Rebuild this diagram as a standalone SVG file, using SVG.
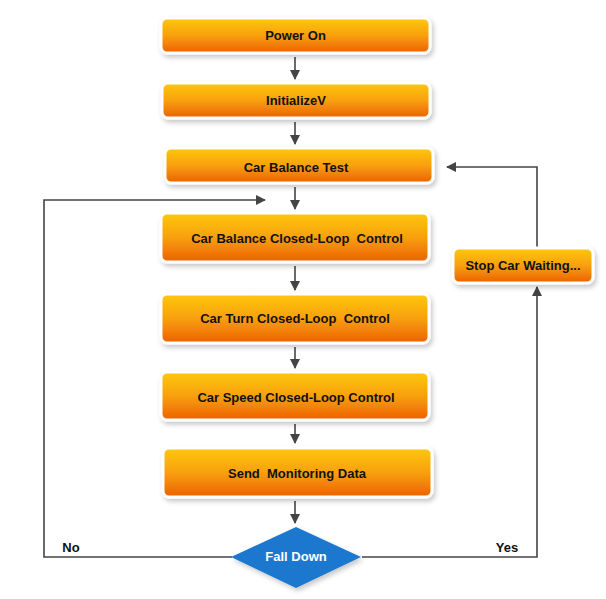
<svg xmlns="http://www.w3.org/2000/svg" width="606" height="599" viewBox="0 0 606 599">
<defs>
<linearGradient id="og" x1="0" y1="0" x2="0" y2="1">
<stop offset="0" stop-color="#FEC80C"/>
<stop offset="0.5" stop-color="#F8A00A"/>
<stop offset="1" stop-color="#EC6004"/>
</linearGradient>
<filter id="sh" x="-10%" y="-20%" width="120%" height="160%">
<feDropShadow dx="2" dy="3" stdDeviation="2.5" flood-color="#000" flood-opacity="0.22"/>
</filter>
<marker id="ah" viewBox="0 0 10 10" refX="9" refY="5" markerWidth="10" markerHeight="10" markerUnits="userSpaceOnUse" orient="auto">
<path d="M0,0 L10,5 L0,10 z" fill="#444"/>
</marker>
<style>
.box{fill:url(#og);stroke:#fff;stroke-width:3;filter:url(#sh)}
.t{font-family:"Liberation Sans",Arial,sans-serif;font-weight:bold;font-size:13px;fill:#111;text-anchor:middle;white-space:pre}
.c{fill:none;stroke:#444;stroke-width:1.6;marker-end:url(#ah)}
</style>
</defs>
<rect width="606" height="599" fill="#fff"/>
<g id="connectors">
<line class="c" x1="295" y1="57" x2="295" y2="79"/>
<line class="c" x1="295" y1="122" x2="295" y2="144"/>
<line class="c" x1="295" y1="187" x2="295" y2="209"/>
<line class="c" x1="295" y1="266" x2="295" y2="290"/>
<line class="c" x1="295" y1="347" x2="295" y2="368"/>
<line class="c" x1="295" y1="424" x2="295" y2="443"/>
<line class="c" x1="295" y1="501" x2="295" y2="523"/>
<polyline class="c" points="232,557 44,557 44,200 265,200"/>
<polyline class="c" points="362,557 537,557 537,287"/>
<polyline class="c" points="537,247 537,167 447,167"/>
</g>
<g id="power-on"><rect class="box" x="161" y="18" width="269" height="35" rx="6"/><text class="t" x="295.5" y="40">Power On</text></g>
<g id="initialize"><rect class="box" x="162" y="83" width="268" height="35" rx="6"/><text class="t" x="296" y="105">InitializeV</text></g>
<g id="balance-test"><rect class="box" x="165" y="148" width="268" height="35" rx="6"/><text class="t" x="296" y="172">Car Balance Test</text></g>
<g id="balance-control"><rect class="box" x="161" y="213" width="268" height="49" rx="6"/><text class="t" x="297" y="243" xml:space="preserve">Car Balance Closed-Loop  Control</text></g>
<g id="turn-control"><rect class="box" x="161" y="294" width="268" height="49" rx="6"/><text class="t" x="295" y="323" xml:space="preserve">Car Turn Closed-Loop  Control</text></g>
<g id="speed-control"><rect class="box" x="161" y="372" width="268" height="48" rx="6"/><text class="t" x="296" y="402">Car Speed Closed-Loop Control</text></g>
<g id="send-data"><rect class="box" x="163" y="448" width="269" height="49" rx="6"/><text class="t" x="297" y="478" xml:space="preserve">Send  Monitoring Data</text></g>
<g id="stop-car"><rect class="box" x="453" y="248" width="140" height="35" rx="6"/><text class="t" x="523" y="270">Stop Car Waiting...</text></g>
<g id="fall-down"><polygon points="296,527 361,557 296,588 231,557" fill="#1C78CF" filter="url(#sh)"/><text class="t" x="296" y="561" style="fill:#fff">Fall Down</text></g>
<g id="labels">
<text class="t" x="71" y="552">No</text>
<text class="t" x="507" y="552">Yes</text>
</g>
</svg>
